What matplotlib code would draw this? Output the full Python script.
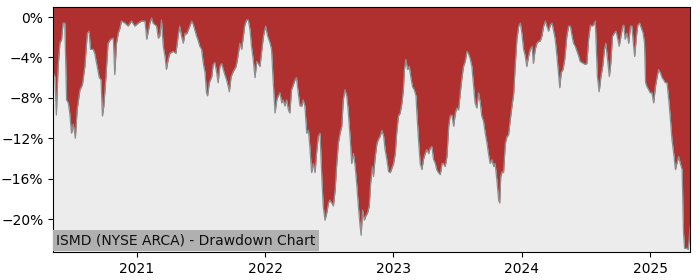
import matplotlib
matplotlib.use("Agg")
import matplotlib.pyplot as plt
import matplotlib.dates as mdates
import matplotlib.ticker as mticker
import pandas as pd

dates = [
    "2020-05-08", "2020-05-13", "2020-05-17", "2020-05-22", "2020-05-27", "2020-06-01", "2020-06-05", "2020-06-10",
    "2020-06-15", "2020-06-20", "2020-06-24", "2020-06-29", "2020-07-04", "2020-07-10", "2020-07-15", "2020-07-23",
    "2020-07-30", "2020-08-06", "2020-08-13", "2020-08-18", "2020-08-22", "2020-08-30", "2020-09-03", "2020-09-10",
    "2020-09-16", "2020-09-21", "2020-09-25", "2020-09-29", "2020-10-05", "2020-10-11", "2020-10-18", "2020-10-26",
    "2020-10-30", "2020-11-04", "2020-11-09", "2020-11-14", "2020-11-18", "2020-11-28", "2020-12-07", "2020-12-17",
    "2020-12-26", "2021-01-05", "2021-01-14", "2021-01-24", "2021-01-29", "2021-02-07", "2021-02-12", "2021-02-16",
    "2021-02-26", "2021-03-03", "2021-03-07", "2021-03-12", "2021-03-17", "2021-03-22", "2021-03-26", "2021-03-31",
    "2021-04-05", "2021-04-14", "2021-04-22", "2021-04-29", "2021-05-03", "2021-05-08", "2021-05-13", "2021-05-18",
    "2021-05-22", "2021-05-27", "2021-06-06", "2021-06-10", "2021-06-15", "2021-06-20", "2021-06-25", "2021-06-29",
    "2021-07-04", "2021-07-09", "2021-07-14", "2021-07-18", "2021-07-21", "2021-07-26", "2021-08-02", "2021-08-06",
    "2021-08-11", "2021-08-16", "2021-08-20", "2021-08-25", "2021-08-30", "2021-09-04", "2021-09-08", "2021-09-13",
    "2021-09-18", "2021-09-21", "2021-09-26", "2021-10-02", "2021-10-10", "2021-10-14", "2021-10-21", "2021-10-26",
    "2021-10-31", "2021-11-04", "2021-11-09", "2021-11-14", "2021-11-19", "2021-11-23", "2021-11-28", "2021-12-03",
    "2021-12-08", "2021-12-12", "2021-12-17", "2021-12-27", "2022-01-02", "2022-01-08", "2022-01-15", "2022-01-19",
    "2022-01-24", "2022-01-29", "2022-02-03", "2022-02-07", "2022-02-12", "2022-02-17", "2022-02-21", "2022-02-26",
    "2022-03-03", "2022-03-08", "2022-03-12", "2022-03-17", "2022-03-22", "2022-03-27", "2022-03-31", "2022-04-05",
    "2022-04-10", "2022-04-15", "2022-04-19", "2022-04-24", "2022-04-29", "2022-05-04", "2022-05-08", "2022-05-13",
    "2022-05-18", "2022-05-23", "2022-05-27", "2022-06-01", "2022-06-06", "2022-06-11", "2022-06-15", "2022-06-20",
    "2022-06-25", "2022-06-30", "2022-07-04", "2022-07-09", "2022-07-14", "2022-07-19", "2022-07-23", "2022-07-28",
    "2022-08-02", "2022-08-07", "2022-08-11", "2022-08-16", "2022-08-21", "2022-08-25", "2022-08-31", "2022-09-04",
    "2022-09-09", "2022-09-14", "2022-09-19", "2022-09-23", "2022-09-28", "2022-10-01", "2022-10-05", "2022-10-10",
    "2022-10-14", "2022-10-19", "2022-10-24", "2022-10-28", "2022-11-02", "2022-11-05", "2022-11-10", "2022-11-15",
    "2022-11-19", "2022-11-24", "2022-11-29", "2022-12-04", "2022-12-08", "2022-12-13", "2022-12-18", "2022-12-23",
    "2022-12-27", "2023-01-01", "2023-01-06", "2023-01-10", "2023-01-15", "2023-01-20", "2023-01-25", "2023-01-29",
    "2023-02-01", "2023-02-05", "2023-02-10", "2023-02-15", "2023-02-19", "2023-02-24", "2023-03-01", "2023-03-06",
    "2023-03-08", "2023-03-13", "2023-03-18", "2023-03-23", "2023-03-27", "2023-04-01", "2023-04-06", "2023-04-11",
    "2023-04-15", "2023-04-20", "2023-04-25", "2023-04-30", "2023-05-04", "2023-05-09", "2023-05-14", "2023-05-19",
    "2023-05-23", "2023-05-28", "2023-06-02", "2023-06-07", "2023-06-11", "2023-06-16", "2023-06-21", "2023-06-26",
    "2023-06-30", "2023-07-05", "2023-07-10", "2023-07-14", "2023-07-19", "2023-07-24", "2023-07-29", "2023-08-02",
    "2023-08-07", "2023-08-12", "2023-08-17", "2023-08-21", "2023-08-26", "2023-08-31", "2023-09-05", "2023-09-09",
    "2023-09-14", "2023-09-19", "2023-09-24", "2023-09-28", "2023-10-03", "2023-10-08", "2023-10-13", "2023-10-17",
    "2023-10-22", "2023-10-27", "2023-10-30", "2023-11-02", "2023-11-06", "2023-11-10", "2023-11-15", "2023-11-20",
    "2023-11-24", "2023-11-29", "2023-12-04", "2023-12-09", "2023-12-13", "2023-12-18", "2023-12-23", "2023-12-28",
    "2024-01-01", "2024-01-06", "2024-01-11", "2024-01-15", "2024-01-20", "2024-01-25", "2024-01-30", "2024-02-03",
    "2024-02-08", "2024-02-13", "2024-02-18", "2024-02-22", "2024-02-27", "2024-03-03", "2024-03-08", "2024-03-12",
    "2024-03-17", "2024-03-22", "2024-03-27", "2024-03-31", "2024-04-05", "2024-04-10", "2024-04-15", "2024-04-18",
    "2024-04-22", "2024-04-27", "2024-05-02", "2024-05-08", "2024-05-13", "2024-05-18", "2024-05-23", "2024-05-27",
    "2024-06-01", "2024-06-06", "2024-06-11", "2024-06-15", "2024-06-25", "2024-06-29", "2024-07-04", "2024-07-09",
    "2024-07-14", "2024-07-18", "2024-07-23", "2024-07-28", "2024-07-31", "2024-08-03", "2024-08-08", "2024-08-13",
    "2024-08-18", "2024-08-23", "2024-08-27", "2024-09-01", "2024-09-06", "2024-09-10", "2024-09-15", "2024-09-20",
    "2024-09-25", "2024-09-30", "2024-10-04", "2024-10-09", "2024-10-14", "2024-10-17", "2024-10-21", "2024-10-26",
    "2024-10-31", "2024-11-05", "2024-11-09", "2024-11-14", "2024-11-17", "2024-11-22", "2024-11-26", "2024-12-01",
    "2024-12-06", "2024-12-11", "2024-12-15", "2024-12-18", "2024-12-22", "2024-12-27", "2024-12-31", "2025-01-05",
    "2025-01-10", "2025-01-15", "2025-01-20", "2025-01-24", "2025-01-29", "2025-02-03", "2025-02-07", "2025-02-12",
    "2025-02-17", "2025-02-22", "2025-02-26", "2025-03-03", "2025-03-08", "2025-03-13", "2025-03-17", "2025-03-22",
    "2025-03-27", "2025-04-01", "2025-04-05", "2025-04-08", "2025-04-15", "2025-04-18", "2025-04-21", "2025-04-24",
]

drawdown_pct = [
    -5.5, -5.9, -9.7, -4.9, -2.6, -2.2, -0.6, -0.6,
    -8.2, -8.5, -9.5, -11.5, -10.6, -12.0, -9.2, -7.2,
    -6.7, -4.9, -1.6, -1.4, -3.2, -3.2, -3.6, -4.9,
    -6.0, -6.2, -9.8, -8.8, -5.9, -2.6, -2.2, -2.1,
    -5.7, -2.6, -1.6, -1.1, -0.4, -0.6, -0.9, -0.4,
    -0.9, -0.6, -0.4, -0.4, -2.2, -0.6, -0.1, -0.6,
    -0.9, -2.1, -1.9, -0.3, -2.9, -3.9, -5.2, -4.2,
    -3.6, -3.4, -3.6, -1.7, -0.9, -1.9, -2.6, -1.6,
    -1.7, -1.3, -0.4, -0.7, -1.3, -1.9, -2.4, -2.9,
    -3.2, -4.6, -5.5, -7.5, -7.8, -6.5, -5.9, -4.7,
    -4.5, -5.5, -6.5, -4.9, -4.6, -5.2, -5.7, -6.2,
    -6.9, -7.4, -5.9, -5.4, -4.9, -4.2, -2.6, -3.2,
    -1.9, -0.8, -0.3, -0.3, -1.3, -2.9, -4.2, -6.0,
    -4.4, -4.6, -4.9, -1.9, -0.9, -1.9, -2.6, -3.2,
    -6.5, -9.5, -8.2, -7.8, -7.5, -8.5, -8.2, -8.8,
    -8.2, -9.2, -9.5, -7.2, -6.7, -6.2, -6.0, -7.5,
    -8.8, -8.8, -8.2, -8.8, -11.5, -11.2, -12.8, -15.4,
    -14.5, -15.4, -13.5, -11.8, -11.5, -15.8, -18.7, -20.1,
    -19.4, -18.4, -18.1, -18.4, -18.7, -17.1, -14.8, -12.5,
    -11.5, -10.8, -8.2, -7.2, -7.8, -9.2, -12.1, -14.5,
    -13.5, -14.8, -16.8, -18.7, -20.7, -21.6, -19.1, -20.1,
    -19.7, -19.4, -18.7, -16.4, -14.8, -15.8, -13.8, -12.5,
    -12.1, -11.8, -11.2, -11.8, -13.1, -14.1, -15.3, -15.4,
    -15.0, -14.5, -13.5, -11.5, -9.8, -9.5, -8.5, -7.2,
    -5.2, -4.2, -5.2, -4.9, -5.9, -6.9, -7.2, -7.8,
    -9.2, -12.1, -14.5, -15.1, -14.1, -13.5, -13.1, -13.5,
    -13.0, -12.8, -14.1, -14.5, -15.1, -15.4, -15.6, -14.5,
    -14.5, -14.8, -13.8, -10.8, -9.8, -9.7, -10.8, -9.5,
    -9.0, -9.2, -7.5, -6.2, -4.9, -4.4, -3.4, -3.6,
    -4.1, -4.9, -6.9, -8.5, -9.0, -7.5, -8.5, -9.8,
    -10.3, -11.5, -12.5, -13.5, -14.5, -14.1, -14.8, -14.5,
    -16.1, -18.1, -18.4, -15.8, -15.3, -15.4, -12.5, -11.8,
    -11.7, -10.2, -8.8, -7.5, -4.9, -2.2, -0.9, -0.6,
    -1.6, -3.2, -3.9, -4.9, -3.9, -3.2, -2.9, -4.6,
    -3.2, -2.6, -2.4, -2.4, -1.9, -0.9, -0.4, -0.9,
    -1.4, -0.8, -0.6, -1.3, -2.2, -3.9, -5.9, -7.0,
    -5.5, -5.2, -4.2, -1.9, -0.9, -0.9, -1.9, -2.6,
    -2.9, -3.4, -3.9, -4.4, -4.6, -4.7, -4.6, -2.2,
    -0.8, -0.9, -0.8, -0.4, -3.2, -5.9, -7.4, -5.9,
    -4.9, -3.2, -2.6, -4.2, -5.9, -4.6, -1.9, -1.6,
    -1.4, -2.2, -2.9, -1.9, -0.9, -0.8, -2.2, -1.6,
    -2.6, -0.9, -0.9, -2.9, -3.9, -1.9, -0.8, -0.6,
    -1.1, -1.6, -2.6, -6.5, -6.9, -7.2, -7.5, -7.5,
    -8.5, -6.9, -5.9, -5.2, -5.5, -6.0, -6.2, -6.5,
    -6.5, -8.2, -9.8, -12.1, -13.5, -15.1, -14.5, -13.8,
    -14.5, -15.1, -21.4, -22.9, -22.9, -23.0, -22.0, -20.7,
]

y_ticks = [0, -4, -8, -12, -16, -20]
title_text = "ISMD (NYSE ARCA) - Drawdown Chart"

x = pd.to_datetime(dates)
y = [v / 100.0 for v in drawdown_pct]

fig = plt.figure(figsize=(7, 2.8), dpi=100)
ax = fig.add_axes([0.076, 0.1, 0.910, 0.875])
ax.set_facecolor("#ececec")

ymax = 0.0099
ymin = -0.2325
ax.fill_between(x, y, ymax, color="#b03030", linewidth=0)
ax.plot(x, y, color="#8a9090", linewidth=0.9)

ax.set_xlim(x[0], x[-1])
ax.set_ylim(ymin, ymax)
ax.set_yticks([t / 100 for t in y_ticks])
ax.yaxis.set_major_formatter(mticker.FuncFormatter(lambda v, p: f"{v*100:.0f}%".replace("-", "\u2212")))
ax.xaxis.set_major_locator(mdates.YearLocator())
ax.xaxis.set_major_formatter(mdates.DateFormatter("%Y"))
ax.tick_params(labelsize=10)

ax.text(0.005, 0.018, title_text, transform=ax.transAxes, fontsize=10, color="#111111",
        va="bottom", ha="left",
        bbox=dict(facecolor="#b0b0b0", edgecolor="none", pad=2.5))

fig.savefig("out.png", dpi=100)
